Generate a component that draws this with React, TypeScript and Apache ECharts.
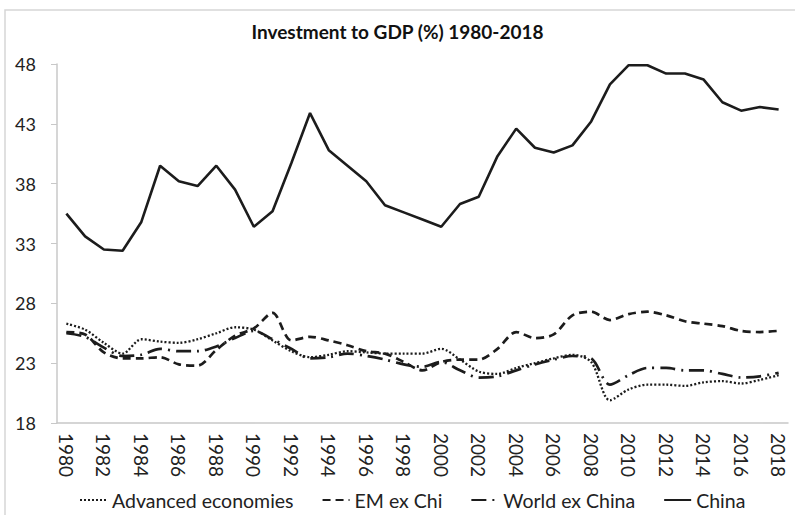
import React, { useEffect, useRef } from "react";
import * as echarts from "echarts";

const years: string[] = [];
for (let y = 1980; y <= 2018; y++) years.push(String(y));

const yTicks = [18, 23, 28, 33, 38, 43, 48];

const advanced = [26.3, 25.8, 24.7, 23.8, 25.0, 24.8, 24.7, 25.0, 25.5, 26.0, 25.8, 24.9, 24.0, 23.5, 23.7, 24.0, 23.9, 23.8, 23.8, 23.8, 24.2, 23.3, 22.3, 22.1, 22.6, 23.0, 23.4, 23.7, 23.1, 19.9, 20.8, 21.2, 21.2, 21.1, 21.4, 21.5, 21.3, 21.6, 22.0];
const emExChi = [25.6, 25.4, 23.9, 23.4, 23.4, 23.5, 22.9, 22.8, 24.1, 25.3, 25.9, 27.2, 24.9, 25.2, 24.9, 24.5, 24.0, 23.8, 23.1, 22.4, 23.1, 23.3, 23.3, 24.2, 25.6, 25.1, 25.4, 27.0, 27.3, 26.6, 27.1, 27.3, 27.0, 26.5, 26.3, 26.1, 25.7, 25.6, 25.7];
const worldExChina = [25.5, 25.2, 24.3, 23.6, 23.7, 24.2, 24.0, 24.0, 24.4, 25.1, 25.7, 25.0, 24.2, 23.4, 23.5, 23.8, 23.6, 23.3, 22.9, 22.7, 23.1, 22.4, 21.8, 21.9, 22.4, 22.9, 23.3, 23.6, 23.4, 21.2, 22.0, 22.6, 22.6, 22.4, 22.4, 22.1, 21.8, 21.9, 22.2];
const china = [35.5, 33.6, 32.5, 32.4, 34.8, 39.5, 38.2, 37.8, 39.5, 37.5, 34.4, 35.7, 39.7, 43.9, 40.8, 39.5, 38.2, 36.2, 35.6, 35.0, 34.4, 36.3, 36.9, 40.3, 42.6, 41.0, 40.6, 41.2, 43.2, 46.3, 47.9, 47.9, 47.2, 47.2, 46.7, 44.8, 44.1, 44.4, 44.2];

const FONT = "Lato, 'Open Sans', sans-serif";
const INK = "#1c1c1c";
const AXIS = "#c8c8c8";

export default function App() {
  const ref = useRef<HTMLDivElement>(null);
  useEffect(() => {
    if (!ref.current) return;
    const chart = echarts.init(ref.current, null, { renderer: "svg" });
    const lineSeries = (name: string, data: number[], type: any, width: number, smooth: number | boolean) => ({
      name,
      type: "line",
      data,
      symbol: "none",
      smooth,
      lineStyle: { color: INK, width, type, cap: "butt" },
      itemStyle: { color: INK },
    });
    chart.setOption({
      animation: false,
      backgroundColor: "#ffffff",
      textStyle: { fontFamily: FONT },
      title: {
        text: "Investment to GDP (%) 1980-2018",
        left: "center",
        top: 17,
        textStyle: { fontFamily: FONT, fontSize: 19, fontWeight: "bold", color: "#111" },
      },
      graphic: [
        {
          type: "rect",
          shape: { x: 5, y: 10, width: 800, height: 520 },
          style: { fill: "none", stroke: "#d6d6d6", lineWidth: 1.5 },
          silent: true,
        },
      ],
      grid: { left: 57, right: 7, top: 64, bottom: 92, containLabel: false },
      legend: {
        left: 74,
        top: 485,
        itemWidth: 27,
        itemHeight: 14,
        itemGap: 28,
        itemStyle: { opacity: 0 },
        textStyle: { fontFamily: FONT, fontSize: 19.5, color: "#222" },
        data: ["Advanced economies", "EM ex Chi", "World ex China", "China"],
      },
      xAxis: {
        type: "category",
        data: years,
        boundaryGap: true,
        axisLine: { lineStyle: { color: AXIS, width: 1.5 } },
        axisTick: { interval: 0, length: 6, lineStyle: { color: AXIS } },
        axisLabel: {
          interval: 1,
          rotate: -90,
          margin: 10,
          fontFamily: FONT,
          fontSize: 19,
          color: "#222",
        },
        splitLine: { show: false },
      },
      yAxis: {
        type: "value",
        min: 18,
        max: 48,
        axisLine: { show: true, lineStyle: { color: AXIS, width: 1.5 } },
        axisTick: { show: true, length: 6, customValues: yTicks, lineStyle: { color: AXIS } },
        axisLabel: {
          customValues: yTicks,
          margin: 21,
          fontFamily: FONT,
          fontSize: 18,
          color: "#222",
        },
        splitLine: { show: false },
      },
      series: [
        lineSeries("Advanced economies", advanced, [2, 2], 2.3, 0.3),
        lineSeries("EM ex Chi", emExChi, [8, 5], 2.7, 0.3),
        lineSeries("World ex China", worldExChina, [15, 6, 2, 6], 2.7, 0.3),
        lineSeries("China", china, "solid", 2.6, false),
      ],
    });
    return () => chart.dispose();
  }, []);
  return <div ref={ref} style={{ position: "absolute", left: 0, top: 0, width: 795, height: 515 }} />;
}
